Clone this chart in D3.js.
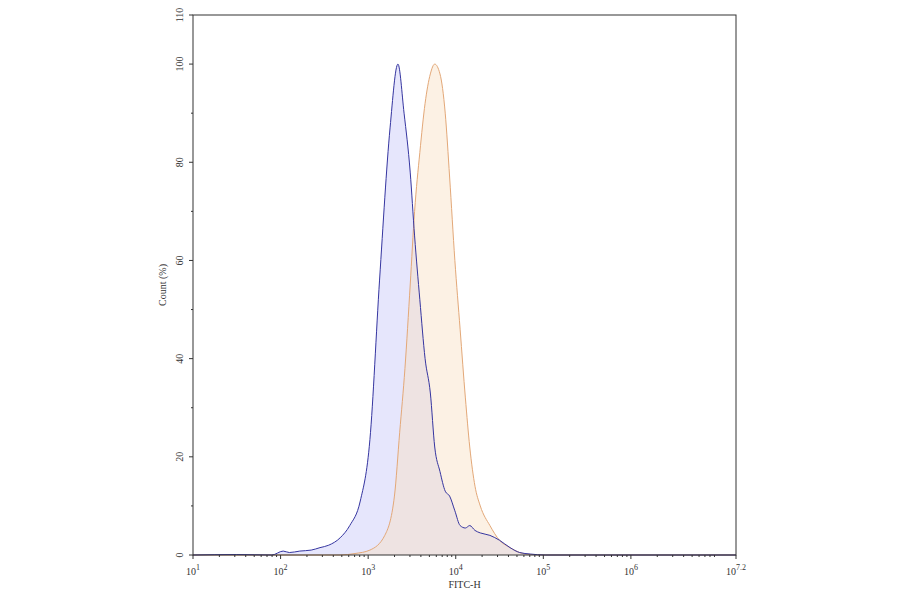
<!DOCTYPE html>
<html><head><meta charset="utf-8">
<script src="https://cdn.jsdelivr.net/npm/d3@7"></script>
<style>body{margin:0;background:#fff}text{font-family:"Liberation Serif","DejaVu Serif",serif}</style>
</head><body><svg id="c" width="900" height="594"></svg>
<script>
const yTicks=[0,20,40,60,80,100,110];
const xTickExps=[1,2,3,4,5,6,7.2];
const xTickLabels=["1","2","3","4","5","6","7.2"];
// x values as log10(FITC-H)
const blueLog=[1.0,1.5,1.9,2.03,2.1,2.22,2.35,2.45,2.55,2.68,2.79,2.91,3.02,3.13,3.25,3.34,3.41,3.48,3.53,3.59,3.65,3.71,3.76,3.82,3.88,3.93,3.99,4.05,4.11,4.16,4.22,4.28,4.39,4.50,4.62,4.73,4.85,5.02,7.2];
const blueVal=[0,0.1,0,0.8,0.5,0.8,1,1.5,2,3.5,6,11,23.5,56,87,100,90,78,65,52,40,33,22,17,13,12,9,6,5.5,6,5,4.5,4,3,1.5,0.5,0.2,0,0];
const orangeLog=[1.0,2.5,2.68,2.85,3.02,3.19,3.3,3.36,3.42,3.48,3.53,3.59,3.65,3.71,3.76,3.82,3.88,3.93,3.99,4.05,4.11,4.16,4.22,4.28,4.39,4.50,4.62,4.73,4.85,5.02,7.2];
const orangeVal=[0,0,0,0.3,1,4,12,25,38,55,70,82,92,98,100,98,90,77,60,46,32,22,14,10,6,3,1.5,0.5,0.1,0,0];

const svg=d3.select("#c");
const L=193,R=736,T=15,B=555;
const x=d3.scaleLinear().domain([1,7.2]).range([L,R]);
const y=d3.scaleLinear().domain([0,110]).range([B,T]);

const area=d3.area().x(d=>x(d[0])).y0(y(0)).y1(d=>y(d[1])).curve(d3.curveMonotoneX);
const line=d3.line().x(d=>x(d[0])).y(d=>y(d[1])).curve(d3.curveMonotoneX);
const blue=blueLog.map((v,i)=>[v,blueVal[i]]);
const orange=orangeLog.map((v,i)=>[v,orangeVal[i]]);

svg.append("path").attr("d",area(blue)).attr("fill","rgba(200,200,248,0.45)");
svg.append("path").attr("d",area(orange)).attr("fill","rgba(248,225,195,0.45)");
svg.append("path").attr("d",line(orange)).attr("fill","none").attr("stroke","#e3a878").attr("stroke-width",1);
svg.append("path").attr("d",line(blue)).attr("fill","none").attr("stroke","#3535a0").attr("stroke-width",1);

svg.append("rect").attr("x",L).attr("y",T).attr("width",R-L).attr("height",B-T).attr("fill","none").attr("stroke","#333").attr("stroke-width",1);

// y ticks
yTicks.forEach(t=>{
  svg.append("line").attr("x1",L-4).attr("x2",L).attr("y1",y(t)).attr("y2",y(t)).attr("stroke","#333");
  svg.append("text").attr("transform",`translate(${L-10},${y(t)}) rotate(-90)`).attr("text-anchor","middle").attr("font-size",10).attr("fill","#333").text(t);
});
// minor y ticks
d3.range(10,110,10).filter(v=>v%20!==0).forEach(t=>{
  svg.append("line").attr("x1",L-2).attr("x2",L).attr("y1",y(t)).attr("y2",y(t)).attr("stroke","#333");
});
// x ticks
xTickExps.forEach((e,i)=>{
  svg.append("line").attr("x1",x(e)).attr("x2",x(e)).attr("y1",B).attr("y2",B+4).attr("stroke","#333");
  const t=svg.append("text").attr("x",x(e)).attr("y",B+20).attr("text-anchor","middle").attr("font-size",10).attr("fill","#333");
  t.append("tspan").text("10");
  t.append("tspan").attr("dy",-5).attr("font-size",8).text(xTickLabels[i]);
});
for(let d=1;d<7.2;d++){for(let k=2;k<10;k++){const v=d+Math.log10(k);if(v<7.2)svg.append("line").attr("x1",x(v)).attr("x2",x(v)).attr("y1",B).attr("y2",B+2).attr("stroke","#333");}}

svg.append("text").attr("x",x(4.1)).attr("y",588).attr("text-anchor","middle").attr("font-size",10).attr("fill","#333").text("FITC-H");
svg.append("text").attr("transform",`translate(166,${(T+B)/2}) rotate(-90)`).attr("text-anchor","middle").attr("font-size",10).attr("fill","#333").text("Count (%)");
</script></body></html>
